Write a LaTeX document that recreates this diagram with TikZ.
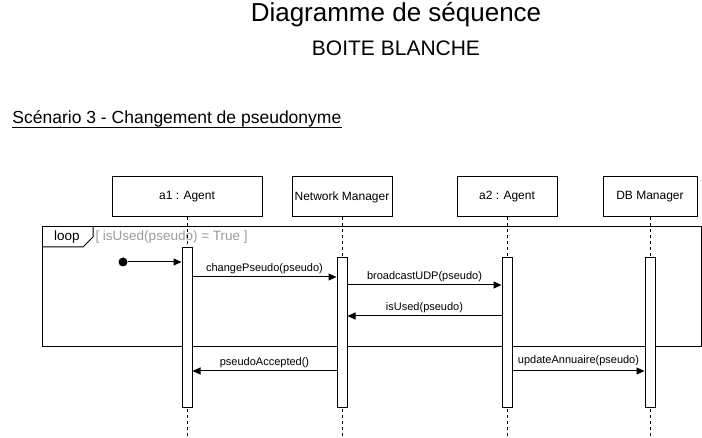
\documentclass[tikz,border=0pt]{standalone}
\usepackage{fontspec}
\setmainfont{Liberation Sans}
\usetikzlibrary{arrows.meta,positioning}
\definecolor{guardgray}{RGB}{155,155,155}
\tikzset{every picture/.style={line width=1pt}}

\begin{document}
\begin{tikzpicture}[x=1pt,y=-1pt,
  head/.style={draw,fill=white,minimum height=40pt,inner sep=0pt,font=\fontsize{12}{14}\selectfont},
  actbar/.style={draw,fill=white,minimum width=10pt,inner sep=0pt},
  msg/.style={-{Triangle[length=8pt,width=7pt]}},
  lifeline/.style={dash pattern=on 3pt off 3pt},
  msglbl/.style={above,inner sep=2.5pt,font=\fontsize{11}{13}\selectfont}]
\useasboundingbox (0,0) rectangle (702,438);

% titles
\node[anchor=base,font=\fontsize{26}{30}\selectfont] (title) at (396,22) {Diagramme de séquence};
\node[anchor=base,font=\fontsize{21}{25}\selectfont] (subtitle) at (396,56) {BOITE BLANCHE};
\node[anchor=base west,inner sep=0pt,font=\fontsize{17.5}{21}\selectfont] (scenario) at (12,124) {Scénario 3 - Changement de pseudonyme};
\draw[line width=0.8pt] ([yshift=-3pt]scenario.base west) -- ([yshift=-3pt]scenario.base east);

% loop frame
\draw (42,227) rectangle (701,347);
\draw (42,247) -- (83,247) -- (93,237) -- (93,227);
\node[font=\fontsize{13.5}{16}\selectfont] (looplbl) at (67,237) {loop};
\node[anchor=west,inner sep=1pt,text=guardgray,font=\fontsize{13.5}{16}\selectfont] (guard) at (94,237) {[ isUsed(pseudo) = True ]};

% lifelines
\node[head,minimum width=150pt] (a1) at (187,197) {a1 : Agent};
\node[head,minimum width=100pt] (nm) at (342,197) {Network Manager};
\node[head,minimum width=100pt] (a2) at (507,197) {a2 : Agent};
\node[head,minimum width=94pt] (db) at (650,197) {DB Manager};
\foreach \p in {a1,nm,a2,db}
  \draw[lifeline] (\p.south) -- (\p.south |- 0,438);

\node[actbar,minimum height=160pt,below=30pt of a1] (a1act) {};
\node[actbar,minimum height=150pt,below=40pt of nm] (nmact) {};
\node[actbar,minimum height=150pt,below=40pt of a2] (a2act) {};
\node[actbar,minimum height=150pt,below=40pt of db] (dbact) {};

% messages
\node[circle,fill,inner sep=0pt,minimum size=9pt] (start) at (123,262) {};
\draw[msg] (start) -- (a1act.west |- start);
\draw[msg] (a1act.east |- 0,277) -- node[msglbl] (m1) {changePseudo(pseudo)} (nmact.west |- 0,277);
\draw[msg] (nmact.east |- 0,285) -- node[msglbl] (m2) {broadcastUDP(pseudo)} (a2act.west |- 0,285);
\draw[msg] (a2act.west |- 0,316) -- node[msglbl] (m3) {isUsed(pseudo)} (nmact.east |- 0,316);
\draw[msg] (nmact.west |- 0,371) -- node[msglbl] (m4) {pseudoAccepted()} (a1act.east |- 0,371);
\draw[msg] (a2act.east |- 0,371) -- node[msglbl,yshift=2pt] (m5) {updateAnnuaire(pseudo)} (dbact.west |- 0,371);
\end{tikzpicture}
\end{document}
